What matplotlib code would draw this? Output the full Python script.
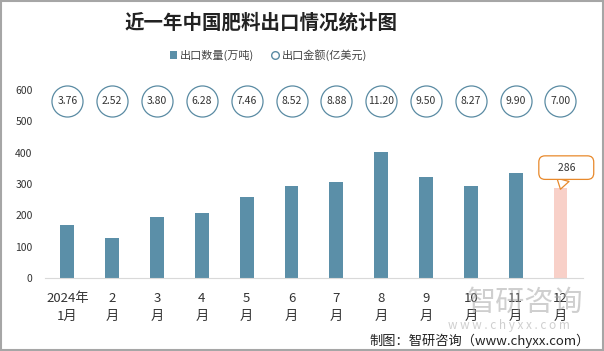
import matplotlib.pyplot as plt
from matplotlib.patches import Rectangle, Patch
from matplotlib.lines import Line2D
import numpy as np

plt.rcParams['font.family'] = ['Noto Sans CJK SC', 'DejaVu Sans']

# data
months = ['2024年\n1月', '2\n月', '3\n月', '4\n月', '5\n月', '6\n月',
          '7\n月', '8\n月', '9\n月', '10\n月', '11\n月', '12\n月']
volume = [169, 128, 195, 208, 258, 294, 307, 403, 323, 294, 335, 286]
value = ['3.76', '2.52', '3.80', '6.28', '7.46', '8.52',
         '8.88', '11.20', '9.50', '8.27', '9.90', '7.00']
yticks = [0, 100, 200, 300, 400, 500, 600]

bar_color = '#5B8FA8'
last_color = '#F8D0C8'
circle_edge = '#5A8BA3'
callout_color = '#E8892B'
text_color = '#333333'

fig = plt.figure(figsize=(6.04, 3.51), dpi=100)
ax = fig.add_axes([0.0745, 0.208, 0.8905, 0.536])

x = np.arange(len(months))
colors = [bar_color] * (len(months) - 1) + [last_color]
ax.bar(x, volume, width=0.31, color=colors, zorder=2)

# circles with the export value, in a row near the top
circle_y = 565
ax.scatter(x, [circle_y] * len(x), s=500, facecolor='white',
           edgecolor=circle_edge, linewidth=0.9, zorder=3, clip_on=False)
for xi, v in zip(x, value):
    ax.text(xi, circle_y, v, ha='center', va='center', fontsize=7.5,
            color=text_color, zorder=4)

# callout for the last month
ax.annotate('     ' + str(volume[-1]) + '     ', xy=(x[-1], volume[-1] - 3),
            xytext=(x[-1] + 0.13, 352),
            ha='center', va='center', fontsize=7.5, color=text_color,
            bbox=dict(boxstyle='round,pad=0.65,rounding_size=0.6', fc='white',
                      ec=callout_color, lw=0.9),
            arrowprops=dict(arrowstyle='wedge,tail_width=1.2,shrink_factor=0.5',
                            fc='white', ec=callout_color, lw=0.9,
                            shrinkA=0, shrinkB=0),
            annotation_clip=False, zorder=5)

ax.set_xlim(-0.5, len(months) - 0.5)
ax.set_ylim(0, 600)
ax.set_yticks(yticks)
ax.set_xticks(x)
ax.set_xticklabels(months, fontsize=9.5, color=text_color, linespacing=1.5)
ax.tick_params(axis='y', length=0, labelsize=7.5, labelcolor=text_color, pad=9)
ax.tick_params(axis='x', length=0, pad=10)
for side in ['top', 'right', 'left']:
    ax.spines[side].set_visible(False)
ax.spines['bottom'].set_color('#D9D9D9')

# title and legend
fig.text(0.432, 0.935, '近一年中国肥料出口情况统计图', ha='center', va='center',
         fontsize=14, fontweight='bold', color='#222222')
handles = [Patch(facecolor=bar_color, edgecolor='none'),
           Line2D([], [], marker='o', linestyle='none', markersize=5.5,
                  markerfacecolor='white', markeredgecolor=circle_edge)]
fig.legend(handles, ['出口数量(万吨)', '出口金额(亿美元)'], loc='center',
           bbox_to_anchor=(0.445, 0.843), ncol=2, frameon=False, fontsize=8,
           handlelength=0.6, handleheight=0.7, handletextpad=0.3, columnspacing=1.6,
           labelcolor='#444444')

# watermark (sits behind the x labels like in the source)
fig.text(0.869, 0.137, '智研咨询', ha='center', va='center', fontsize=21,
         color='#A0A0A0', alpha=0.5, zorder=0)
fig.text(0.843, 0.074, 'w w w . c h y x x . c o m', ha='center', va='center',
         fontsize=8.5, color='#A0A0A0', alpha=0.5, zorder=0)

# source line
fig.text(0.977, 0.03, '制图：智研咨询（www.chyxx.com）', ha='right', va='center',
         fontsize=9.5, color='#222222')

# outer frame
fig.patches.append(Rectangle((0.001, 0.002), 0.997, 0.995, transform=fig.transFigure,
                             fill=False, edgecolor='#A6A6A6', linewidth=1.5))

fig.savefig('out.png', dpi=100)
